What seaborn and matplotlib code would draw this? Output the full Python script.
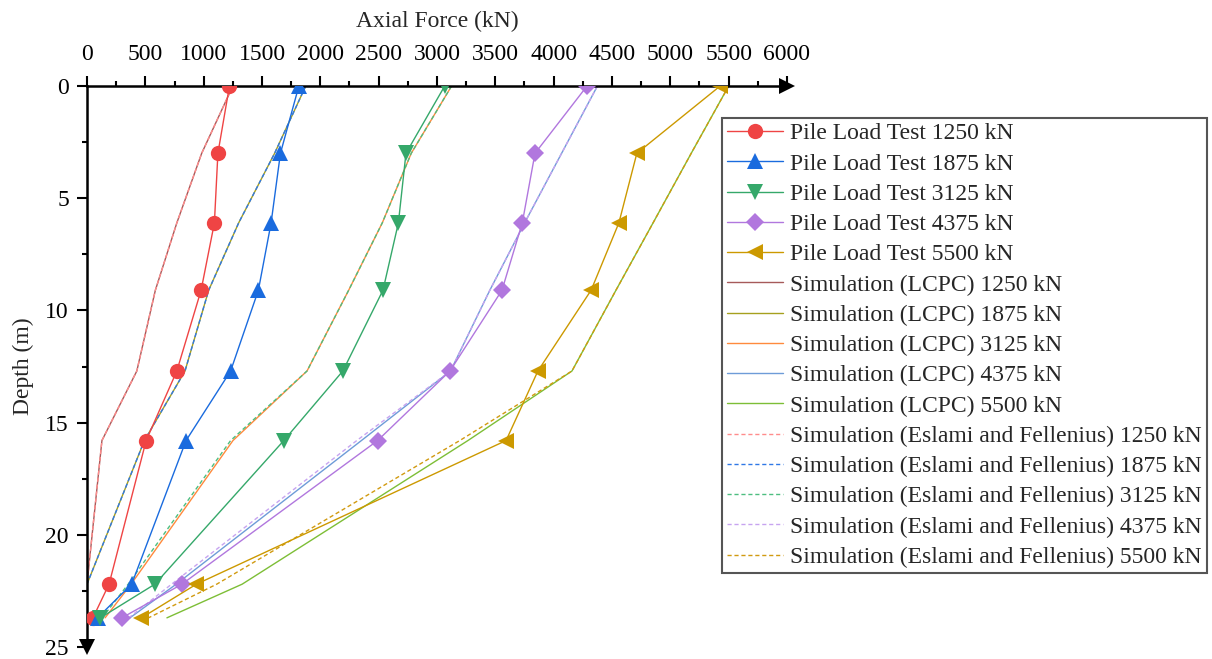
import matplotlib
matplotlib.use("Agg")
import matplotlib.pyplot as plt
from matplotlib.ticker import MultipleLocator
import seaborn as sns
import pandas as pd

sns.set_theme(style="white")
plt.rcParams["font.family"] = ["Liberation Serif", "DejaVu Serif"]
plt.rcParams["mathtext.fontset"] = "stix"

# Depth of the strain-gauge levels along the pile (m)
depth = [0.0, 3.0, 6.1, 9.1, 12.7, 15.8, 22.2, 23.7]

loads = ["1250", "1875", "3125", "4375", "5500"]

# Measured axial force from the pile load tests (kN)
test_1250 = [1221, 1122, 1092, 978, 770, 507, 189, 51]
test_1875 = [1816, 1658, 1578, 1469, 1231, 849, 383, 90]
test_3125 = [3066, 2734, 2669, 2537, 2193, 1687, 582, 115]
test_4375 = [4286, 3840, 3731, 3557, 3111, 2491, 814, 299]
test_5500 = [5427, 4713, 4559, 4321, 3865, 3592, 938, 467]

# Simulated axial force, LCPC method (kN)
lcpc_1250 = [1250, 983, 770, 586, 427, 128, 0, 0]
lcpc_1875 = [1875, 1608, 1300, 1043, 840, 492, 0, 0]
lcpc_3125 = [3125, 2779, 2531, 2243, 1886, 1251, 378, 155]
lcpc_4375 = [4375, 4068, 3751, 3453, 3116, 2352, 765, 368]
lcpc_5500 = [5500, 5179, 4852, 4534, 4157, 3265, 1330, 685]

# Simulated axial force, Eslami and Fellenius method (kN)
ef_1250 = [1250, 983, 770, 586, 427, 128, 0, 0]
ef_1875 = [1875, 1608, 1300, 1043, 840, 492, 0, 0]
ef_3125 = [3125, 2779, 2531, 2243, 1886, 1231, 353, 130]
ef_4375 = [4375, 4068, 3751, 3453, 3116, 2312, 725, 358]
ef_5500 = [5500, 5179, 4852, 4534, 4157, 3195, 1112, 527]

tests = [test_1250, test_1875, test_3125, test_4375, test_5500]
lcpc = [lcpc_1250, lcpc_1875, lcpc_3125, lcpc_4375, lcpc_5500]
ef = [ef_1250, ef_1875, ef_3125, ef_4375, ef_5500]

test_colors = ["#EF4444", "#1A6BDE", "#35A86A", "#B177DE", "#CC9900"]
test_markers = ["o", "^", "v", "D", "<"]
test_msize = [11, 11.5, 11.5, 9, 11.5]
lcpc_colors = ["#A65A5A", "#A6A01E", "#FF8A3D", "#6E9CD8", "#7DBE36"]
ef_colors = ["#FF8C8C", "#2F78E6", "#4DBE80", "#C7A4F0", "#D19A10"]

fig = plt.figure(figsize=(12.12, 6.59), dpi=100)
ax = fig.add_axes([87 / 1212, 1 - 647 / 659, 700 / 1212, 561 / 659])

handles_test, handles_lcpc, handles_ef = [], [], []

for i, ld in enumerate(loads):
    df = pd.DataFrame({"force": lcpc[i], "depth": depth})
    sns.lineplot(data=df, x="force", y="depth", sort=False, estimator=None,
                 color=lcpc_colors[i], linewidth=1.0, ax=ax, zorder=2)
    handles_lcpc.append(ax.lines[-1])

for i, ld in enumerate(loads):
    df = pd.DataFrame({"force": ef[i], "depth": depth})
    sns.lineplot(data=df, x="force", y="depth", sort=False, estimator=None,
                 color=ef_colors[i], linewidth=1.0, linestyle=(0, (3, 2)),
                 ax=ax, zorder=2.1)
    handles_ef.append(ax.lines[-1])

for i, ld in enumerate(loads):
    df = pd.DataFrame({"force": tests[i], "depth": depth})
    sns.lineplot(data=df, x="force", y="depth", sort=False, estimator=None,
                 color=test_colors[i], linewidth=1.0, marker=test_markers[i],
                 markersize=test_msize[i], markeredgewidth=0,
                 ax=ax, zorder=3)
    handles_test.append(ax.lines[-1])

labels = ([f"Pile Load Test {l} kN" for l in loads]
          + [f"Simulation (LCPC) {l} kN" for l in loads]
          + [f"Simulation (Eslami and Fellenius) {l} kN" for l in loads])

ax.set_xlim(0, 6000)
ax.set_ylim(25, 0)

# Axes styling: force axis on top, depth axis on the left, arrowheads at the ends
for side in ["right", "bottom"]:
    ax.spines[side].set_visible(False)
for side in ["top", "left"]:
    ax.spines[side].set_linewidth(1.8)
    ax.spines[side].set_color("black")

ax.xaxis.tick_top()
ax.xaxis.set_label_position("top")
ax.xaxis.set_major_locator(MultipleLocator(500))
ax.xaxis.set_minor_locator(MultipleLocator(250))
ax.yaxis.set_major_locator(MultipleLocator(5))
ax.yaxis.set_minor_locator(MultipleLocator(2.5))
ax.tick_params(axis="both", which="major", direction="out", length=7,
               width=1.5, color="black", labelsize=17, labelcolor="black")
ax.tick_params(axis="both", which="minor", direction="out", length=3.5,
               width=1.5, color="black")
ax.tick_params(axis="x", which="both", top=True, bottom=False, pad=8)
ax.tick_params(axis="y", which="both", left=True, right=False, pad=6)

ax.set_xlabel("Axial Force (kN)", fontsize=17, labelpad=12)
ax.set_ylabel("Depth (m)", fontsize=17, labelpad=8)
ax.grid(False)

ax.plot([1.0], [1.0], marker=">", markersize=11, color="black",
        transform=ax.transAxes, clip_on=False, zorder=5,
        markeredgewidth=0)
ax.plot([0.0], [0.0], marker="v", markersize=11, color="black",
        transform=ax.transAxes, clip_on=False, zorder=5,
        markeredgewidth=0)

leg = ax.legend(handles_test + handles_lcpc + handles_ef, labels,
                loc="upper left",
                bbox_to_anchor=(722 / 1212, 1 - 118 / 659),
                bbox_transform=fig.transFigure,
                fontsize=17, frameon=True, fancybox=False,
                edgecolor="#555555", framealpha=1, borderaxespad=0,
                borderpad=0.2, labelspacing=0.37, handlelength=2.4,
                handletextpad=0.3, numpoints=1)
leg.get_frame().set_linewidth(1.5)

fig.savefig("out.png", dpi=100, facecolor="white")
